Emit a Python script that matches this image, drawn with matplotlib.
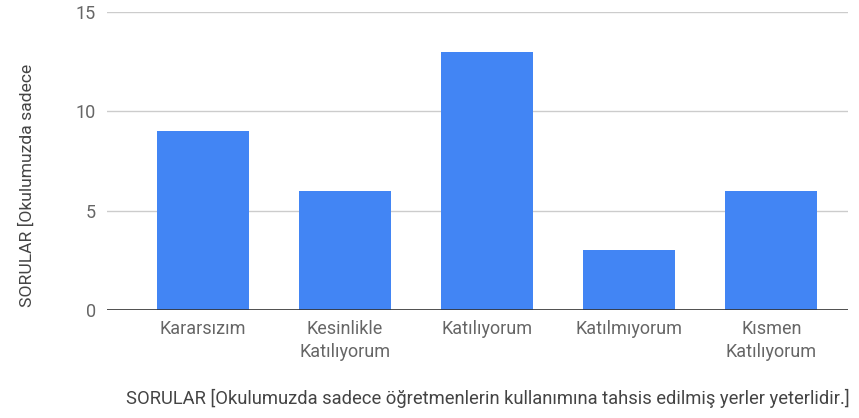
import matplotlib.pyplot as plt

categories = ["Kararsızım", "Kesinlikle\nKatılıyorum", "Katılıyorum", "Katılmıyorum", "Kısmen\nKatılıyorum"]
values = [9, 6, 13, 3, 6]
yticks = [0, 5, 10, 15]

plt.rcParams['font.family'] = ['Roboto', 'DejaVu Sans']

fig = plt.figure(figsize=(8.59, 4.18), dpi=100)
ax = fig.add_axes([107 / 859, 108 / 418, (848 - 107) / 859, (310 - 12) / 418])

x = range(len(categories))
ax.bar(x, values, width=0.65, color="#4285f4", zorder=3)

ax.set_ylim(0, 15)
ax.set_xlim(-0.676, 4.54)
ax.set_yticks(yticks)
ax.set_xticks(list(x))
ax.set_xticklabels(categories, fontsize=13, color="#666666", linespacing=1.35)
ax.tick_params(axis='y', labelsize=13, labelcolor="#666666", length=0, pad=8)
ax.tick_params(axis='x', length=0, pad=7)
ax.grid(axis='y', color="#cccccc", linewidth=1, zorder=0)
ax.axhline(0, color="#333333", linewidth=1.2, zorder=4)
for s in ax.spines.values():
    s.set_visible(False)

ax.set_ylabel("SORULAR [Okulumuzda sadece", fontsize=12.6, color="#444444")
ax.set_xlabel("SORULAR [Okulumuzda sadece öğretmenlerin kullanımına tahsis edilmiş yerler yeterlidir.]",
              fontsize=13.2, color="#444444")
ax.yaxis.set_label_coords((35 - 107) / 741, (310 - 185) / 298)
ax.xaxis.set_label_coords((487.5 - 107) / 741, -(389 - 310) / 298)

fig.savefig("out.png", dpi=100)
